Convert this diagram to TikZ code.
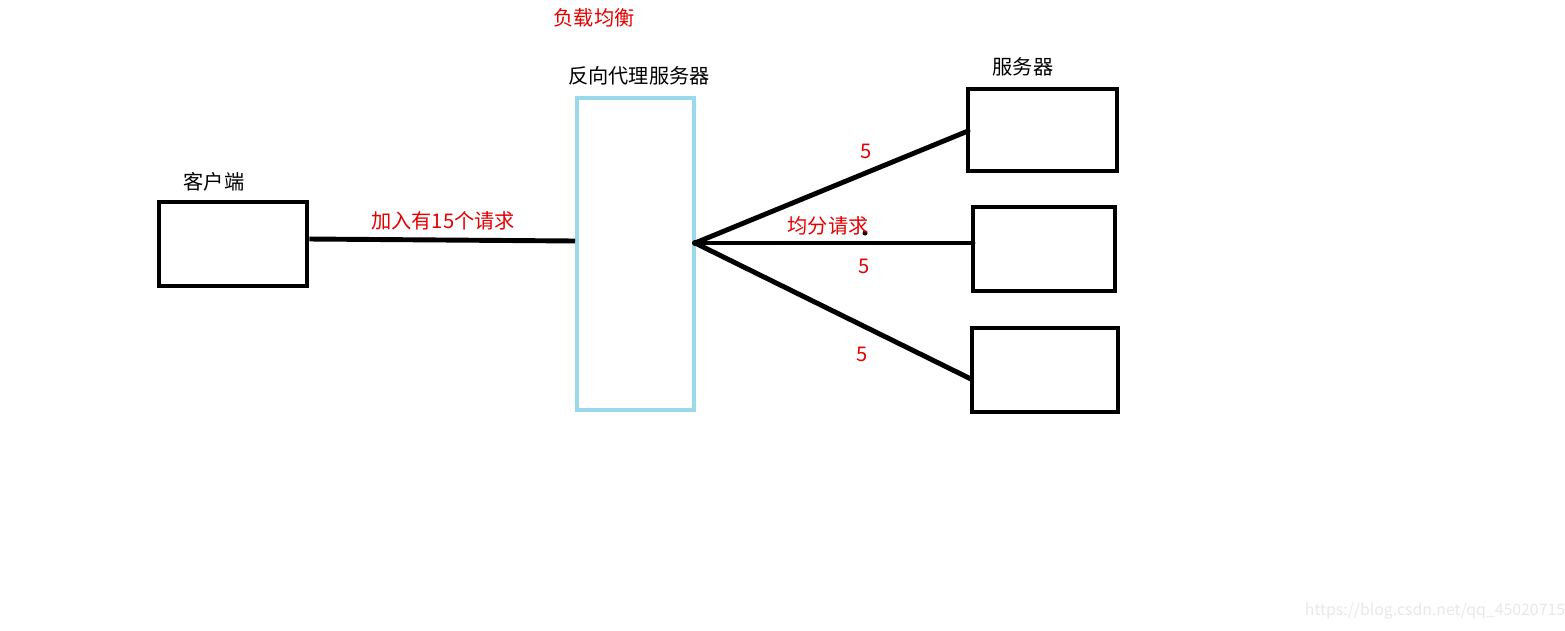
\documentclass[tikz,border=0pt]{standalone}
\usepackage{fontspec}
\setmainfont{Noto Sans CJK SC}
\begin{document}
\begin{tikzpicture}[x=0.02cm,y=-0.02cm,
  conn/.style={line width=2.8pt,black},
  lbl/.style={font=\fontsize{11.5}{13}\selectfont,text=black,inner sep=0pt},
  rlbl/.style={font=\fontsize{11.5}{13}\selectfont,text=red!90!black,inner sep=0pt}]
\useasboundingbox (0,0) rectangle (1565,630);
% boxes
\node[draw=black,line width=2.8pt,minimum width=2.96cm,minimum height=1.68cm,inner sep=0pt] (client) at (233,244) {};
\node[draw={rgb,255:red,153;green,217;blue,234},line width=2.3pt,minimum width=2.34cm,minimum height=6.24cm,inner sep=0pt] (proxy) at (635.5,254) {};
\node[draw=black,line width=2.8pt,minimum width=2.98cm,minimum height=1.64cm,inner sep=0pt] (s1) at (1042.5,130) {};
\node[draw=black,line width=2.8pt,minimum width=2.84cm,minimum height=1.68cm,inner sep=0pt] (s2) at (1044,249) {};
\node[draw=black,line width=2.8pt,minimum width=2.92cm,minimum height=1.68cm,inner sep=0pt] (s3) at (1045,370) {};
% connector end points
\coordinate (pin) at (575,241);
\coordinate (fan) at (695,243);
\coordinate (e1) at (968,131);
\coordinate (e2) at (973,243);
\coordinate (e3) at (971,379);
\draw[conn] (client.east |- 0,239) -- (pin);
\draw[conn,line cap=round] (fan) -- (e1);
\draw[conn,line cap=round] (fan) -- (e2);
\draw[conn,line cap=round] (fan) -- (e3);
\fill[black] (fan) circle (3);
\fill[black] (865,233) circle (2.5);
% labels
\node[rlbl] (title) at (594,18) {负载均衡};
\node[lbl] (tproxy) at (639,76) {反向代理服务器};
\node[lbl] (tserver) at (1023,67) {服务器};
\node[lbl] (tclient) at (214,182) {客户端};
\node[rlbl] (treq) at (443,221) {加入有15个请求};
\node[rlbl] (tavg) at (828,226) {均分请求};
\node[rlbl] (n1) at (866,151) {5};
\node[rlbl] (n2) at (864,266) {5};
\node[rlbl] (n3) at (862,354) {5};
\node[font=\fontsize{9}{10}\selectfont,text=black!9,inner sep=0pt] (wm) at (1435,611) {https://blog.csdn.net/qq\_45020715};
\end{tikzpicture}
\end{document}
